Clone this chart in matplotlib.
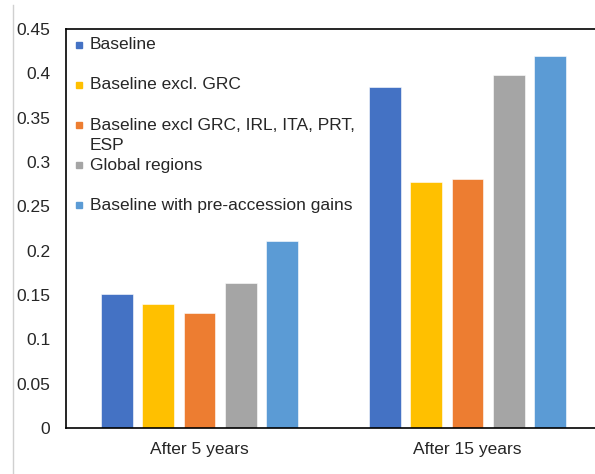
import numpy as np
import matplotlib
matplotlib.use('Agg')
import matplotlib.pyplot as plt
from matplotlib.lines import Line2D

plt.rcParams['font.family'] = ['Liberation Sans', 'DejaVu Sans']

# welfare gains by scenario
periods = ['After 5 years', 'After 15 years']
series = ['Baseline',
          'Baseline excl. GRC',
          'Baseline excl GRC, IRL, ITA, PRT,\nESP',
          'Global regions',
          'Baseline with pre-accession gains']
baseline      = [0.151, 0.385]
excl_grc      = [0.140, 0.277]
excl_periph   = [0.130, 0.281]
global_reg    = [0.164, 0.398]
pre_accession = [0.211, 0.419]

yticks = [0, 0.05, 0.1, 0.15, 0.2, 0.25, 0.3, 0.35, 0.4, 0.45]
yticklabels = ['0', '0.05', '0.1', '0.15', '0.2', '0.25', '0.3', '0.35', '0.4', '0.45']

colors = ['#4472C4', '#FFC000', '#ED7D31', '#A5A5A5', '#5B9BD5']

###########################################################

fig = plt.figure(figsize=(5.95, 4.74), dpi=100)
ax = fig.add_axes([0.1101, 0.0970, 0.9008, 0.8418])

x = np.arange(len(periods))
step = 0.154
width = 0.119
values = [baseline, excl_grc, excl_periph, global_reg, pre_accession]
for i, vals in enumerate(values):
    ax.bar(x + (i - 2) * step, vals, width=width, color=colors[i],
           edgecolor='white', linewidth=0.4, zorder=2)

ax.set_xlim(-0.5, 1.5)
ax.set_ylim(0, 0.45)
ax.set_xticks(x)
ax.set_xticklabels(periods, fontsize=12.5, color='#262626')
ax.set_yticks(yticks)
ax.set_yticklabels(yticklabels, fontsize=12.5, color='#262626')
ax.tick_params(axis='both', length=0)
ax.tick_params(axis='y', pad=11)
ax.tick_params(axis='x', pad=10)

for s in ['left', 'top', 'bottom']:
    ax.spines[s].set_color('black')
    ax.spines[s].set_linewidth(1.2)
ax.spines['right'].set_visible(False)

# legend entries, one row every 40 px, wrapped lines 20 px apart
row0 = 0.960
row_step = 0.1003
line_step = 0.0501
for i, name in enumerate(series):
    y = row0 - i * row_step
    ax.plot([0.026], [y], marker='s', markersize=4.6, color=colors[i],
            transform=ax.transAxes, clip_on=False, linestyle='none')
    for k, line in enumerate(name.split('\n')):
        ax.text(0.0457, y - k * line_step, line, transform=ax.transAxes,
                ha='left', va='center', fontsize=12.5, color='#262626')

# thin frame line at the left edge
fig.add_artist(Line2D([13 / 595, 13 / 595], [1 - 5 / 474, 1 - 473 / 474],
                      color='#d0d0d0', linewidth=1.0))

plt.savefig('out.png', dpi=100)
